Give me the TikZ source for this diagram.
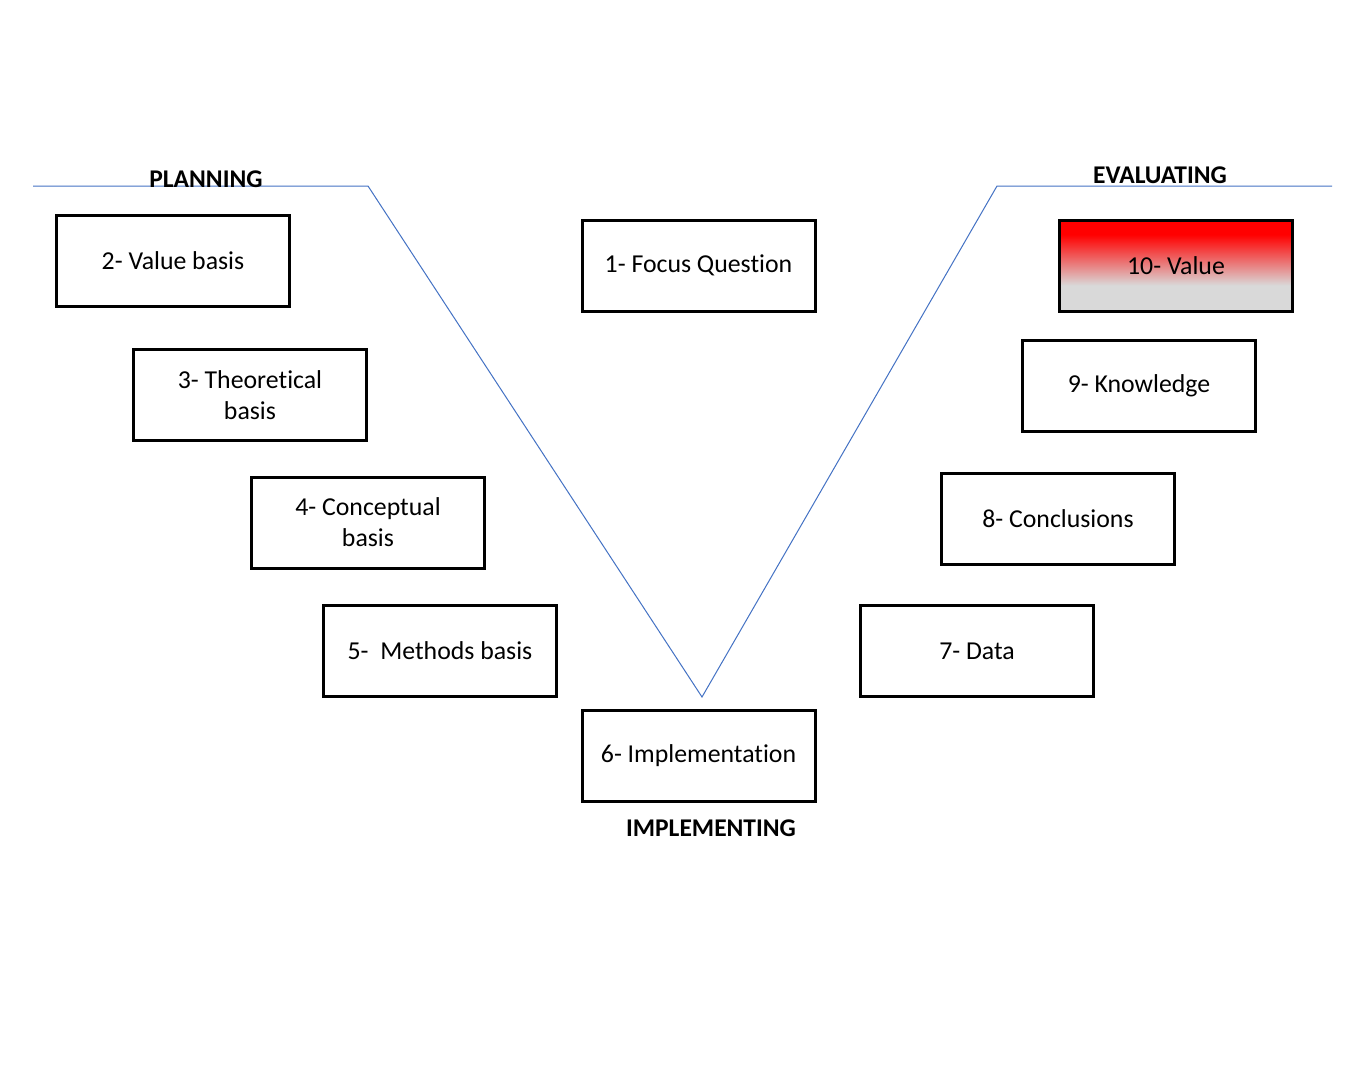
\documentclass[tikz,border=0pt]{standalone}
\usepackage{fontspec}
\setmainfont{Carlito}[Ligatures={NoCommon}]
\definecolor{vline}{HTML}{4472C4}
\definecolor{vgray}{HTML}{D9D9D9}
\definecolor{vred}{HTML}{FF0000}
\pgfdeclareverticalshading{valgrad}{100bp}{color(0bp)=(vgray); color(39bp)=(vgray); color(50bp)=(vred!40!vgray); color(67bp)=(vred); color(100bp)=(vred)}
\begin{document}
\begin{tikzpicture}[x=1pt,y=-1pt,
  box/.style={draw=black,line width=3pt,minimum width=233pt,minimum height=91pt,inner sep=0pt,align=center,font=\fontsize{25.8}{31}\selectfont},
  head/.style={font=\fontsize{25.5}{28}\selectfont\bfseries,inner sep=0pt},
  vl/.style={draw=vline,line width=1pt}]
\useasboundingbox (0,0) rectangle (1365,1068);
\fill[white] (0,0) rectangle (1365,1068);
\coordinate (l0) at (33,186);
\coordinate (l1) at (368,186);
\coordinate (l2) at (702,697);
\coordinate (l3) at (997,186);
\coordinate (l4) at (1332,186);
\draw[vl] (l0) -- (l1) -- (l2) -- (l3) -- (l4);
\node[head,anchor=base] (plan) at (206,187) {PLANNING};
\node[head,anchor=base] (eval) at (1160,183) {EVALUATING};
\node[head,anchor=base] (impl) at (711,836) {IMPLEMENTING};
\node[box] (n2) at (173,261) {2- Value basis};
\node[box] (n3) at (250,395) {3- Theoretical\\basis};
\node[box] (n4) at (368,522.5) {4- Conceptual\\basis};
\node[box] (n5) at (440,651) {5-\ \ Methods basis};
\node[box] (n1) at (698.5,265.5) {1- Focus Question};
\node[box] (n6) at (698.5,756) {6- Implementation};
\node[box] (n7) at (977,651) {7- Data};
\node[box] (n8) at (1058,518.5) {8- Conclusions};
\node[box] (n9) at (1139,386) {9- Knowledge};
\node[box,shading=valgrad] (n10) at (1176,265.5) {10- Value};
\end{tikzpicture}
\end{document}
